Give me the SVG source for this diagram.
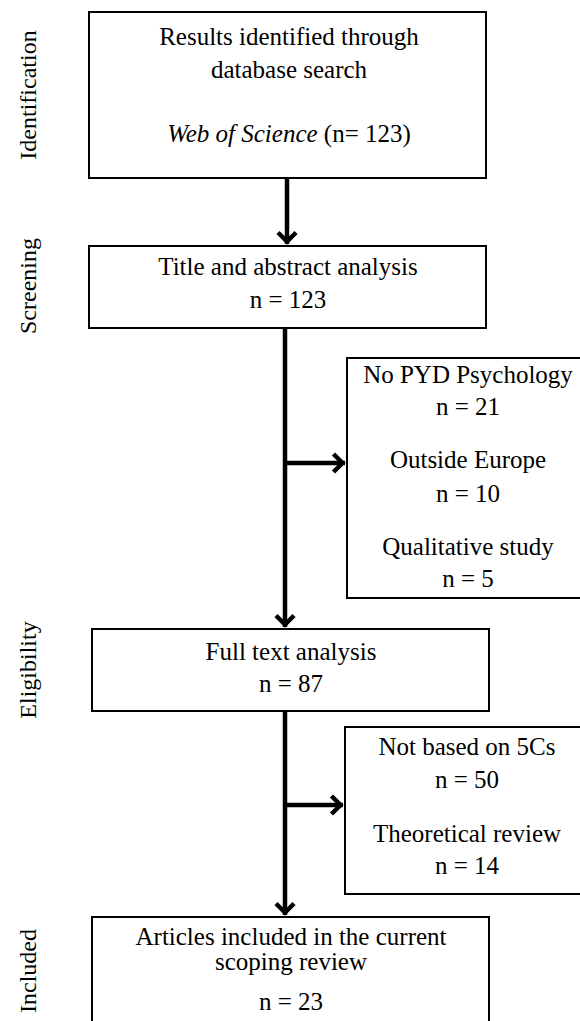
<svg xmlns="http://www.w3.org/2000/svg" width="580" height="1021" viewBox="0 0 580 1021">
<style>
.box{fill:#fff;stroke:#000;stroke-width:2}
.t{font-family:"Liberation Serif","Times New Roman",serif;font-size:25px;fill:#000;text-anchor:middle}
.side{font-family:"Liberation Serif","Times New Roman",serif;font-size:24px;fill:#000;text-anchor:middle}
.con{fill:none;stroke:#000;stroke-width:4.5}
</style>
<defs>
<marker id="arr" markerUnits="userSpaceOnUse" markerWidth="30" markerHeight="30" refX="0" refY="0" orient="auto" overflow="visible">
<path d="M-11.5,-9 L-2.5,0 L-11.5,9" fill="none" stroke="#000" stroke-width="4.5" stroke-linejoin="miter"/>
</marker>
</defs>
<rect width="580" height="1021" fill="#fff"/>
<g id="labels">
<text class="side" transform="translate(36,95) rotate(-90)">Identification</text>
<text class="side" transform="translate(36,286) rotate(-90)">Screening</text>
<text class="side" transform="translate(36,670) rotate(-90)">Eligibility</text>
<text class="side" transform="translate(36,971) rotate(-90)">Included</text>
</g>
<g id="connectors">
<line class="con" x1="287" y1="178" x2="287" y2="244" marker-end="url(#arr)"/>
<line class="con" x1="285" y1="328" x2="285" y2="627" marker-end="url(#arr)"/>
<line class="con" x1="285" y1="463" x2="345" y2="463" marker-end="url(#arr)"/>
<line class="con" x1="285" y1="711" x2="285" y2="915" marker-end="url(#arr)"/>
<line class="con" x1="285" y1="805" x2="343" y2="805" marker-end="url(#arr)"/>
</g>
<g id="identified">
<rect class="box" x="89" y="12" width="397" height="166"/>
<text class="t" x="289" y="45">Results identified through</text>
<text class="t" x="289" y="78">database search</text>
<text class="t" x="289" y="142"><tspan font-style="italic">Web of Science</tspan> (n= 123)</text>
</g>
<g id="screening">
<rect class="box" x="89" y="246" width="397" height="82"/>
<text class="t" x="288" y="275">Title and abstract analysis</text>
<text class="t" x="288" y="308">n = 123</text>
</g>
<g id="excluded1">
<rect class="box" x="347" y="358" width="240" height="240"/>
<text class="t" x="468" y="383">No PYD Psychology</text>
<text class="t" x="468" y="415">n = 21</text>
<text class="t" x="468" y="468">Outside Europe</text>
<text class="t" x="468" y="502">n = 10</text>
<text class="t" x="468" y="555">Qualitative study</text>
<text class="t" x="468" y="587">n = 5</text>
</g>
<g id="eligibility">
<rect class="box" x="92" y="629" width="397" height="82"/>
<text class="t" x="291" y="660">Full text analysis</text>
<text class="t" x="291" y="692">n = 87</text>
</g>
<g id="excluded2">
<rect class="box" x="345" y="727" width="245" height="167"/>
<text class="t" x="467" y="755">Not based on 5Cs</text>
<text class="t" x="467" y="788">n = 50</text>
<text class="t" x="467" y="842">Theoretical review</text>
<text class="t" x="467" y="874">n = 14</text>
</g>
<g id="included">
<rect class="box" x="92" y="917" width="397" height="120"/>
<text class="t" x="291" y="945">Articles included in the current</text>
<text class="t" x="291" y="970">scoping review</text>
<text class="t" x="291" y="1010">n = 23</text>
</g>
</svg>
